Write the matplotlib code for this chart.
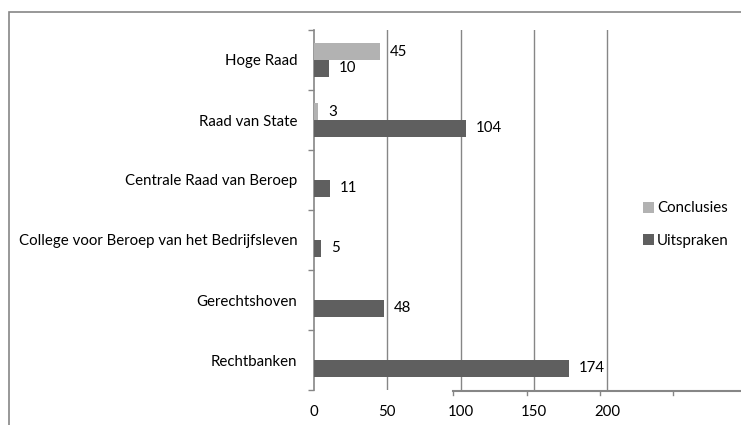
import matplotlib
matplotlib.use("Agg")
import matplotlib.pyplot as plt
from matplotlib.patches import Rectangle
from matplotlib.lines import Line2D
import numpy as np

categories = ["Hoge Raad", "Raad van State", "Centrale Raad van Beroep",
              "College voor Beroep van het Bedrijfsleven", "Gerechtshoven", "Rechtbanken"]
conclusies = [45, 3, 0, 0, 0, 0]
uitspraken = [10, 104, 11, 5, 48, 174]
xticks = [0, 50, 100, 150, 200]
gridlines = [50, 100, 150, 200]

light = "#b2b2b2"
dark = "#5f5f5f"
axis_col = "#868686"
fs = 10.8

plt.rcParams['font.family'] = ['Lato', 'DejaVu Sans']
W, H = 741, 425
fig = plt.figure(figsize=(W / 100, H / 100), dpi=100)
x0, x1, ytop, ybot = 314, 741, 30, 390
ax = fig.add_axes([x0 / W, (H - ybot) / H, (x1 - x0) / W, (ybot - ytop) / H])

n = len(categories)
ypos = np.arange(n)
bh = 0.278
ax.barh(ypos - bh / 2, conclusies, height=bh, color=light, label="Conclusies", zorder=3)
ax.barh(ypos + bh / 2, uitspraken, height=bh, color=dark, label="Uitspraken", zorder=3)

for i in range(n):
    if conclusies[i]:
        ax.annotate(str(conclusies[i]), (conclusies[i], ypos[i] - bh / 2), xytext=(7, 0),
                    textcoords="offset points", va="center", ha="left", fontsize=fs)
    if uitspraken[i]:
        ax.annotate(str(uitspraken[i]), (uitspraken[i], ypos[i] + bh / 2), xytext=(7, 0),
                    textcoords="offset points", va="center", ha="left", fontsize=fs)

ax.set_ylim(n - 0.5, -0.5)
ax.set_xlim(0, (x1 - x0) / ((387.3 - 314) / 50))

for g in gridlines:
    ax.axvline(g, color=axis_col, lw=1, zorder=1)

ax.set_yticks(ypos)
ax.set_yticklabels(categories, fontsize=fs)
ax.set_yticks(np.arange(n + 1) - 0.5, minor=True)
ax.tick_params(axis="y", which="major", length=0, pad=12)
ax.tick_params(axis="y", which="minor", length=4, color=axis_col, width=1)

ax.set_xticks(xticks)
ax.set_xticklabels([str(t) for t in xticks], fontsize=fs)
ax.tick_params(axis="x", length=0, pad=11)

for s in ["top", "right", "bottom"]:
    ax.spines[s].set_visible(False)
ax.spines["left"].set_color(axis_col)
ax.spines["left"].set_linewidth(1.2)

# shifted horizontal axis line (as in the reference)
fig.add_artist(Line2D([453 / W, 1.0], [(H - 391) / H] * 2, color=axis_col, lw=1.5))
for tx in [453, 527, 600, 673]:
    fig.add_artist(Line2D([tx / W] * 2, [(H - 391) / H, (H - 395) / H], color=axis_col, lw=1))

# outer chart frame
fig.add_artist(Rectangle((9 / W, -0.1), 1.0, (H - 12) / H + 0.1, transform=fig.transFigure,
                         fill=False, edgecolor=axis_col, lw=1.2))

leg = fig.legend(loc="upper left", bbox_to_anchor=(629 / W, (H - 188) / H), frameon=False,
                 fontsize=fs, handlelength=0.75, handleheight=0.75, handletextpad=0.2,
                 labelspacing=1.2)

fig.savefig("out.png", dpi=100)
